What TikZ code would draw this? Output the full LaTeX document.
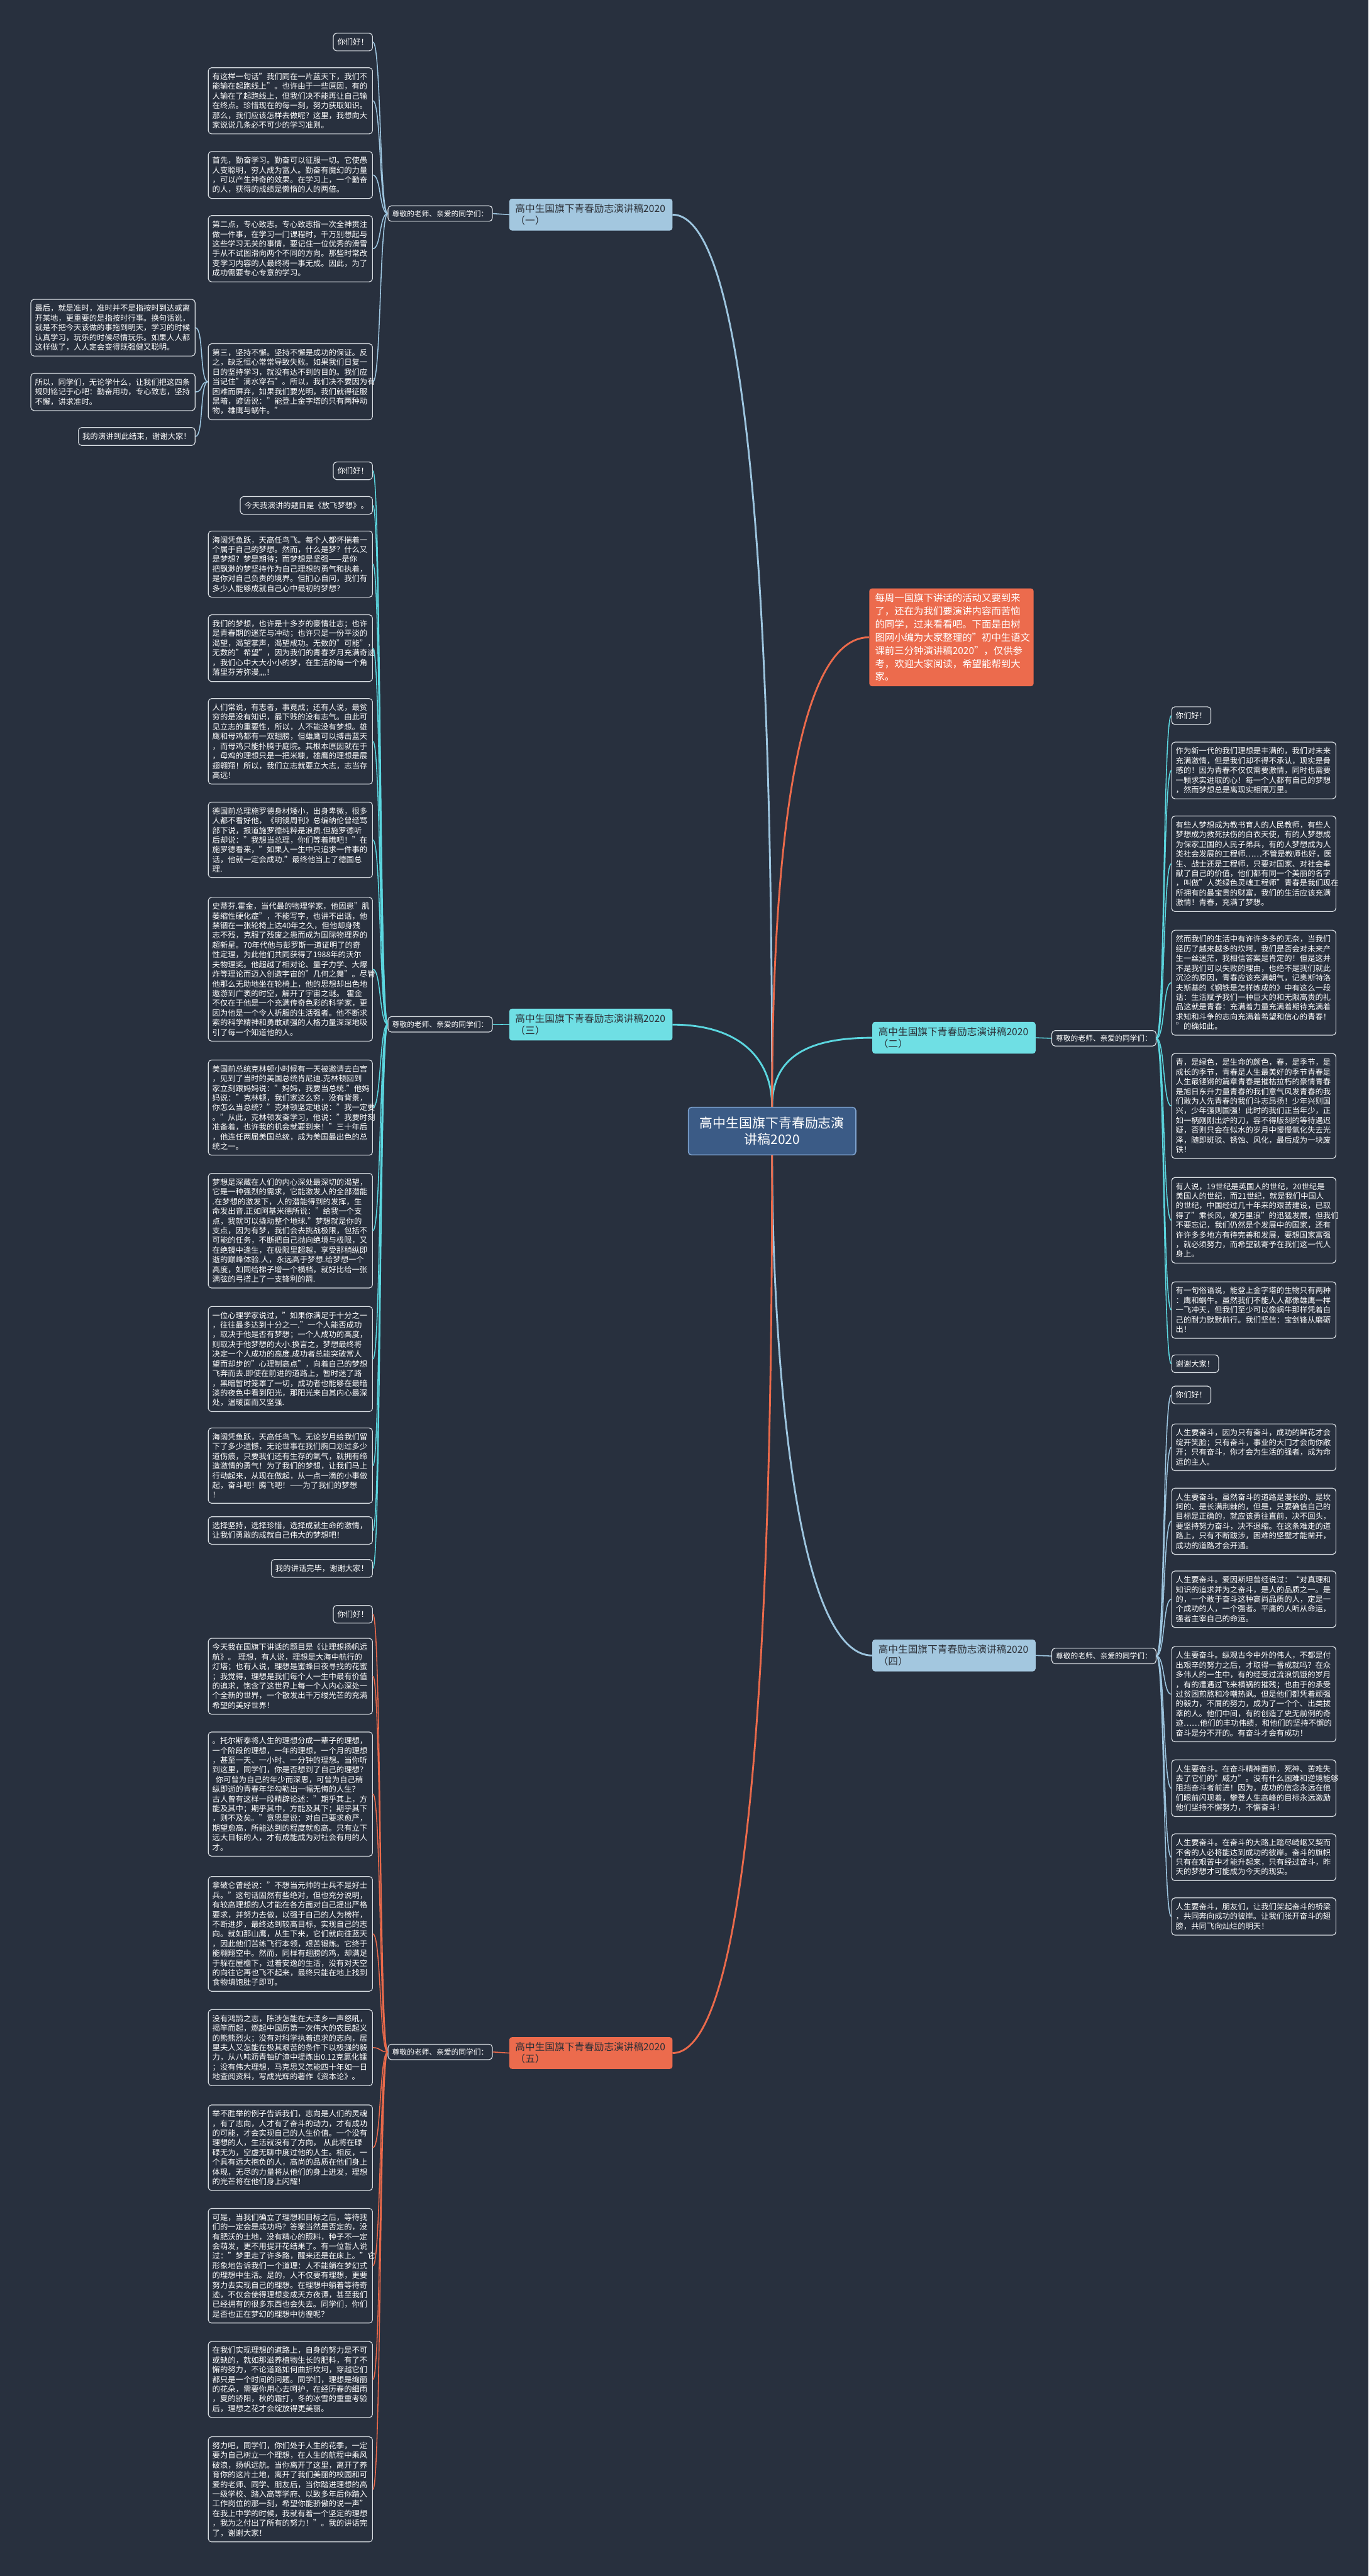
\documentclass[tikz,border=0pt]{standalone}
\usepackage{fontspec}
\setmainfont{Noto Sans CJK SC}
\definecolor{bgcol}{HTML}{28303E}
\definecolor{leafline}{HTML}{D9DEE3}
\definecolor{lblue}{HTML}{9DC5DF}
\definecolor{lcyan}{HTML}{5BD6DF}
\definecolor{lorng}{HTML}{EB6A4B}
\definecolor{tblue}{HTML}{A3C7DF}
\definecolor{tcyan}{HTML}{6FDFE4}
\definecolor{torng}{HTML}{EC6B4D}
\definecolor{titletxt}{HTML}{2B2F36}
\definecolor{rootfill}{HTML}{3B5B86}
\definecolor{rootline}{HTML}{7FA3CF}
\newcommand\mmleaf{\fontsize{4.72}{5.9}\selectfont}
\newcommand\mmgreet{\fontsize{4.5}{5.4}\selectfont}
\newcommand\mmtitle{\fontsize{6}{7.3}\selectfont}
\newcommand\mmroot{\fontsize{8}{10.2}\selectfont}
\newcommand\mmnote{\fontsize{5.9}{8}\selectfont}

\begin{document}
\begin{tikzpicture}[x=1pt, y=-1pt,
	leaf/.style={draw=leafline, fill=bgcol, line width=0.45pt, rounded corners=2pt, text=white, font=\mmleaf, align=left, inner xsep=2.5pt, inner ysep=3.2pt},
	wide/.style={leaf, text width=95pt},
	greet/.style={leaf, font=\mmgreet, inner ysep=2.6pt},
	ttl/.style={fill=#1, draw=#1, line width=0.4pt, rounded corners=1.5pt, text=titletxt, font=\mmtitle, align=left, text width=92pt, inner xsep=3.5pt, inner ysep=3pt},
	note/.style={fill=torng, rounded corners=1.5pt, text=white, font=\mmnote, align=left, text width=93pt, inner xsep=3.5pt, inner ysep=3pt},
	root/.style={fill=rootfill, draw=rootline, line width=0.6pt, rounded corners=2pt, text=white, font=\mmroot, align=center, minimum width=102pt, minimum height=29pt, inner sep=2pt},
	link/.style={draw=#1, line width=0.6pt},
	trunk/.style={draw=#1, line width=1.1pt}]
	\fill[bgcol] (0,0) rectangle (833,1568);
	\useasboundingbox (0,0) rectangle (833,1568);

	\node[root] (root) at (470,688.5) {高中生国旗下青春励志演\\讲稿2020};

	\node[ttl=tblue, anchor=north west] (t1) at (310,121) {高中生国旗下青春励志演讲稿2020\\（一）};
	\node[ttl=tcyan, anchor=north west] (t2) at (531,622) {高中生国旗下青春励志演讲稿2020\\（二）};
	\node[ttl=tcyan, anchor=north west] (t3) at (310,614) {高中生国旗下青春励志演讲稿2020\\（三）};
	\node[ttl=tblue, anchor=north west] (t4) at (531,998) {高中生国旗下青春励志演讲稿2020\\（四）};
	\node[ttl=torng, anchor=north west] (t5) at (310,1240) {高中生国旗下青春励志演讲稿2020\\（五）};
	\node[note, anchor=north west] (intro) at (529,358) {每周一国旗下讲话的活动又要到来\\
了，还在为我们要演讲内容而苦恼\\
的同学，过来看看吧。下面是由树\\
图网小编为大家整理的"初中生语文\\
课前三分钟演讲稿2020"，仅供参\\
考，欢迎大家阅读，希望能帮到大\\
家。};

	\node[greet, anchor=west] (g1) at (236,130) {尊敬的老师、亲爱的同学们：};
	\node[greet, anchor=east] (g2) at (704,632) {尊敬的老师、亲爱的同学们：};
	\node[greet, anchor=west] (g3) at (236,623.5) {尊敬的老师、亲爱的同学们：};
	\node[greet, anchor=east] (g4) at (704,1008) {尊敬的老师、亲爱的同学们：};
	\node[greet, anchor=west] (g5) at (236,1249) {尊敬的老师、亲爱的同学们：};

	\node[leaf, anchor=north east] (a1) at (227,20) {你们好！};
	\node[wide, anchor=north east] (a2) at (227,41) {有这样一句话"我们同在一片蓝天下，我们不\\
能输在起跑线上"。也许由于一些原因，有的\\
人输在了起跑线上，但我们决不能再让自己输\\
在终点。珍惜现在的每一刻，努力获取知识。\\
那么，我们应该怎样去做呢？这里，我想向大\\
家说说几条必不可少的学习准则。};
	\node[wide, anchor=north east] (a3) at (227,92) {首先，勤奋学习。勤奋可以征服一切。它使愚\\
人变聪明，穷人成为富人。勤奋有魔幻的力量\\
，可以产生神奇的效果。在学习上，一个勤奋\\
的人，获得的成绩是懒惰的人的两倍。};
	\node[wide, anchor=north east] (a4) at (227,131) {第二点，专心致志。专心致志指一次全神贯注\\
做一件事，在学习一门课程时，千万别想起与\\
这些学习无关的事情，要记住一位优秀的滑雪\\
手从不试图滑向两个不同的方向。那些时常改\\
变学习内容的人最终将一事无成。因此，为了\\
成功需要专心专意的学习。};
	\node[wide, anchor=north east] (a5) at (227,209) {第三，坚持不懈。坚持不懈是成功的保证。反\\
之，缺乏恒心常常导致失败。如果我们日复一\\
日的坚持学习，就没有达不到的目的。我们应\\
当记住"滴水穿石"。所以，我们决不要因为有\\
困难而屏弃，如果我们要光明，我们就得征服\\
黑暗，谚语说："能登上金字塔的只有两种动\\
物，雄鹰与蜗牛。"};
	\node[wide, anchor=north east] (a6) at (119,182) {最后，就是准时，准时并不是指按时到达或离\\
开某地，更重要的是指按时行事。换句话说，\\
就是不把今天该做的事拖到明天，学习的时候\\
认真学习，玩乐的时候尽情玩乐。如果人人都\\
这样做了，人人定会变得既强健又聪明。};
	\node[wide, anchor=north east] (a7) at (119,227) {所以，同学们，无论学什么，让我们把这四条\\
规则铭记于心吧：勤奋用功，专心致志，坚持\\
不懈，讲求准时。};
	\node[leaf, anchor=north east] (a8) at (119,260) {我的演讲到此结束，谢谢大家！};

	\node[leaf, anchor=north east] (c1) at (227,281) {你们好！};
	\node[leaf, anchor=north east] (c2) at (227,302) {今天我演讲的题目是《放飞梦想》。};
	\node[wide, anchor=north east] (c3) at (227,323) {海阔凭鱼跃，天高任鸟飞。每个人都怀揣着一\\
个属于自己的梦想。然而，什么是梦？什么又\\
是梦想？梦是期待；而梦想是坚强——是你\\
把飘渺的梦坚持作为自己理想的勇气和执着，\\
是你对自己负责的境界。但扪心自问，我们有\\
多少人能够成就自己心中最初的梦想？};
	\node[wide, anchor=north east] (c4) at (227,374) {我们的梦想，也许是十多岁的豪情壮志；也许\\
是青春期的迷茫与冲动；也许只是一份平淡的\\
渴望，渴望掌声，渴望成功。无数的"可能"，\\
无数的"希望"，因为我们的青春岁月充满奇迹\\
，我们心中大大小小的梦，在生活的每一个角\\
落里芬芳弥漫,,,,！};
	\node[wide, anchor=north east] (c5) at (227,425) {人们常说，有志者，事竟成；还有人说，最贫\\
穷的是没有知识，最下贱的没有志气。由此可\\
见立志的重要性，所以，人不能没有梦想。雄\\
鹰和母鸡都有一双翅膀，但雄鹰可以搏击蓝天\\
，而母鸡只能扑腾于庭院。其根本原因就在于\\
，母鸡的理想只是一把米糠，雄鹰的理想是展\\
翅翱翔！所以，我们立志就要立大志，志当存\\
高远！};
	\node[wide, anchor=north east] (c6) at (227,488) {德国前总理施罗德身材矮小，出身卑微，很多\\
人都不看好他，《明镜周刊》总编纳伦曾经骂\\
部下说，报道施罗德纯粹是浪费.但施罗德听\\
后却说："我想当总理，你们等着瞧吧！"在\\
施罗德看来，"如果人一生中只追求一件事的\\
话，他就一定会成功."最终他当上了德国总\\
理.};
	\node[wide, anchor=north east] (c7) at (227,546) {史蒂芬.霍金，当代最的物理学家，他因患"肌\\
萎缩性硬化症"，不能写字，也讲不出话，他\\
禁锢在一张轮椅上达40年之久，但他却身残\\
志不残，克服了残废之患而成为国际物理界的\\
超新星。70年代他与彭罗斯一道证明了的奇\\
性定理，为此他们共同获得了1988年的沃尔\\
夫物理奖。他超越了相对论、量子力学、大爆\\
炸等理论而迈入创造宇宙的"几何之舞"。尽管\\
他那么无助地坐在轮椅上，他的思想却出色地\\
遨游到广袤的时空，解开了宇宙之谜。~霍金\\
不仅在于他是一个充满传奇色彩的科学家，更\\
因为他是一个令人折服的生活强者。他不断求\\
索的科学精神和勇敢顽强的人格力量深深地吸\\
引了每一个知道他的人。};
	\node[wide, anchor=north east] (c8) at (227,645) {美国前总统克林顿小时候有一天被邀请去白宫\\
，见到了当时的美国总统肯尼迪.克林顿回到\\
家立刻跟妈妈说："妈妈，我要当总统."他妈\\
妈说："克林顿，我们家这么穷，没有背景，\\
你怎么当总统？"克林顿坚定地说："我一定要\\
。"从此，克林顿发奋学习，他说："我要时刻\\
准备着，也许我的机会就要到来！"三十年后\\
，他连任两届美国总统，成为美国最出色的总\\
统之一。};
	\node[wide, anchor=north east] (c9) at (227,714) {梦想是深藏在人们的内心深处最深切的渴望，\\
它是一种强烈的需求，它能激发人的全部潜能\\
.在梦想的激发下，人的潜能得到的发挥，生\\
命发出音.正如阿基米德所说："给我一个支\\
点，我就可以撬动整个地球."梦想就是你的\\
支点，因为有梦，我们会去挑战极限，包括不\\
可能的任务，不断把自己抛向绝境与极限，又\\
在绝镜中逢生，在极限里超越，享受那稍纵即\\
逝的巅峰体验.人，永远高于梦想.给梦想一个\\
高度，如同给梯子增一个横档，就好比给一张\\
满弦的弓搭上了一支锋利的箭.};
	\node[wide, anchor=north east] (c10) at (227,795) {一位心理学家说过，"如果你满足于十分之一\\
，往往最多达到十分之一."一个人能否成功\\
，取决于他是否有梦想；一个人成功的高度，\\
则取决于他梦想的大小.换言之，梦想最终将\\
决定一个人成功的高度.成功者总能突破常人\\
望而却步的"心理制高点"，向着自己的梦想\\
飞奔而去.即使在前进的道路上，暂时迷了路\\
，黑暗暂时笼罩了一切，成功者也能够在最暗\\
淡的夜色中看到阳光，那阳光来自其内心最深\\
处，温暖面而又坚强.};
	\node[wide, anchor=north east] (c11) at (227,869) {海阔凭鱼跃，天高任鸟飞。无论岁月给我们留\\
下了多少遗憾，无论世事在我们胸口划过多少\\
道伤痕，只要我们还有生存的氧气，就拥有缔\\
造激情的勇气！为了我们的梦想，让我们马上\\
行动起来，从现在做起，从一点一滴的小事做\\
起，奋斗吧！腾飞吧！——为了我们的梦想\\
！};
	\node[wide, anchor=north east] (c12) at (227,923) {选择坚持，选择珍惜，选择成就生命的激情，\\
让我们勇敢的成就自己伟大的梦想吧！};
	\node[leaf, anchor=north east] (c13) at (227,949) {我的讲话完毕，谢谢大家！};

	\node[leaf, anchor=north east] (e1) at (227,977) {你们好！};
	\node[wide, anchor=north east] (e2) at (227,997) {今天我在国旗下讲话的题目是《让理想扬帆远\\
航》。~理想，有人说，理想是大海中航行的\\
灯塔；也有人说，理想是蜜蜂日夜寻找的花蜜\\
；我觉得，理想是我们每个人一生中最有价值\\
的追求，饱含了这世界上每一个人内心深处一\\
个全新的世界，一个散发出千万缕光芒的充满\\
希望的美好世界！};
	\node[wide, anchor=north east] (e3) at (227,1054) {。托尔斯泰将人生的理想分成一辈子的理想，\\
一个阶段的理想，一年的理想，一个月的理想\\
，甚至一天、一小时、一分钟的理想。当你听\\
到这里，同学们，你是否想到了自己的理想？\\
\hspace*{2pt}你可曾为自己的年少而深思，可曾为自己稍\\
纵即逝的青春年华勾勒出一幅无悔的人生？\\
古人曾有这样一段精辟论述："期乎其上，方\\
能及其中；期乎其中，方能及其下；期乎其下\\
，则不及矣。"意思是说：对自己要求愈严，\\
期望愈高，所能达到的程度就愈高。只有立下\\
远大目标的人，才有成能成为对社会有用的人\\
才。};
	\node[wide, anchor=north east] (e4) at (227,1142) {拿破仑曾经说："不想当元帅的士兵不是好士\\
兵。"这句话固然有些绝对，但也充分说明，\\
有较高理想的人才能在各方面对自己提出严格\\
要求，并努力去做，以强于自己的人为榜样，\\
不断进步，最终达到较高目标，实现自己的志\\
向。就如那山鹰，从生下来，它们就向往蓝天\\
，因此他们苦练飞行本领，艰苦锻炼。它终于\\
能翱翔空中。然而，同样有翅膀的鸡，却满足\\
于躲在屋檐下，过着安逸的生活，没有对天空\\
的向往它再也飞不起来，最终只能在地上找到\\
食物填饱肚子即可。};
	\node[wide, anchor=north east] (e5) at (227,1223) {没有鸿鹄之志，陈涉怎能在大泽乡一声怒吼，\\
揭竿而起，燃起中国历第一次伟大的农民起义\\
的熊熊烈火；没有对科学执着追求的志向，居\\
里夫人又怎能在极其艰苦的条件下以极强的毅\\
力，从八吨沥青铀矿渣中提炼出0.12克氯化镭\\
；没有伟大理想，马克思又怎能四十年如一日\\
地查阅资料，写成光辉的著作《资本论》。};
	\node[wide, anchor=north east] (e6) at (227,1281) {举不胜举的例子告诉我们，志向是人们的灵魂\\
，有了志向，人才有了奋斗的动力，才有成功\\
的可能，才会实现自己的人生价值。一个没有\\
理想的人，生活就没有了方向，~从此将在碌\\
碌无为，空虚无聊中度过他的人生。相反，一\\
个具有远大抱负的人，高尚的品质在他们身上\\
体现，无尽的力量将从他们的身上迸发，理想\\
的光芒将在他们身上闪耀！};
	\node[wide, anchor=north east] (e7) at (227,1344) {可是，当我们确立了理想和目标之后，等待我\\
们的一定会是成功吗？答案当然是否定的，没\\
有肥沃的土地，没有精心的照料，种子不一定\\
会萌发，更不用提开花结果了。有一位哲人说\\
过："梦里走了许多路，醒来还是在床上。"它\\
形象地告诉我们一个道理：人不能躺在梦幻式\\
的理想中生活。是的，人不仅要有理想，更要\\
努力去实现自己的理想。在理想中躺着等待奇\\
迹，不仅会使得理想变成天方夜谭，甚至我们\\
已经拥有的很多东西也会失去。同学们，你们\\
是否也正在梦幻的理想中彷徨呢？};
	\node[wide, anchor=north east] (e8) at (227,1425) {在我们实现理想的道路上，自身的努力是不可\\
或缺的，就如那滋养植物生长的肥料，有了不\\
懈的努力，不论道路如何曲折坎坷，穿越它们\\
都只是一个时间的问题。同学们，理想是绚丽\\
的花朵，需要你用心去呵护，在经历春的细雨\\
，夏的骄阳，秋的霜打，冬的冰雪的重重考验\\
后，理想之花才会绽放得更美丽。};
	\node[wide, anchor=north east] (e9) at (227,1483) {努力吧，同学们，你们处于人生的花季，一定\\
要为自己树立一个理想，在人生的航程中乘风\\
破浪，扬帆远航。当你离开了这里，离开了养\\
育你的这片土地，离开了我们美丽的校园和可\\
爱的老师、同学、朋友后，当你踏进理想的高\\
一级学校、踏入高等学府、以致多年后你踏入\\
工作岗位的那一刻，希望你能骄傲的说一声"\\
在我上中学的时候，我就有着一个坚定的理想\\
，我为之付出了所有的努力！"。我的讲话完\\
了，谢谢大家！};

	\node[leaf, anchor=north west] (b1) at (713,430) {你们好！};
	\node[wide, anchor=north west] (b2) at (713,451.5) {作为新一代的我们理想是丰满的，我们对未来\\
充满激情，但是我们却不得不承认，现实是骨\\
感的！因为青春不仅仅需要激情，同时也需要\\
一颗求实进取的心！每一个人都有自己的梦想\\
，然而梦想总是离现实相隔万里。};
	\node[wide, anchor=north west] (b3) at (713,496.5) {有些人梦想成为教书育人的人民教师，有些人\\
梦想成为救死扶伤的白衣天使，有的人梦想成\\
为保家卫国的人民子弟兵，有的人梦想成为人\\
类社会发展的工程师……不管是教师也好，医\\
生、战士还是工程师，只要对国家、对社会奉\\
献了自己的价值，他们都有同一个美丽的名字\\
，叫做"人类绿色灵魂工程师"青春是我们现在\\
所拥有的最宝贵的财富，我们的生活应该充满\\
激情！青春，充满了梦想。};
	\node[wide, anchor=north west] (b4) at (713,566) {然而我们的生活中有许许多多的无奈，当我们\\
经历了越来越多的坎坷，我们是否会对未来产\\
生一丝迷茫，我相信答案是肯定的！但是这并\\
不是我们可以失败的理由，也绝不是我们就此\\
沉沦的原因，青春应该充满朝气，记奥斯特洛\\
夫斯基的《钢铁是怎样炼成的》中有这么一段\\
话：生活赋予我们一种巨大的和无限高贵的礼\\
品这就是青春：充满着力量充满着期待充满着\\
求知和斗争的志向充满着希望和信心的青春！\\
”的确如此。};
	\node[wide, anchor=north west] (b5) at (713,641) {青，是绿色，是生命的颜色，春，是季节，是\\
成长的季节，青春是人生最美好的季节青春是\\
人生最铿锵的篇章青春是摧枯拉朽的豪情青春\\
是旭日东升力量青春的我们意气风发青春的我\\
们敢为人先青春的我们斗志昂扬！少年兴则国\\
兴，少年强则国强！此时的我们正当年少，正\\
如一柄刚刚出炉的刀，容不得版刻的等待遇迟\\
疑，否则只会在似水的岁月中慢慢氧化失去光\\
泽，随即斑驳、锈蚀、风化，最后成为一块废\\
铁！};
	\node[wide, anchor=north west] (b6) at (713,716.5) {有人说，19世纪是英国人的世纪，20世纪是\\
美国人的世纪，而21世纪，就是我们中国人\\
的世纪，中国经过几十年来的艰苦建设，已取\\
得了"乘长风，破万里浪"的迅猛发展，但我们\\
不要忘记，我们仍然是个发展中的国家，还有\\
许许多多地方有待完善和发展，要想国家富强\\
，就必须努力，而希望就寄予在我们这一代人\\
身上。};
	\node[wide, anchor=north west] (b7) at (713,780) {有一句俗语说，能登上金字塔的生物只有两种\\
：鹰和蜗牛。虽然我们不能人人都像雄鹰一样\\
一飞冲天，但我们至少可以像蜗牛那样凭着自\\
己的耐力默默前行。我们坚信：宝剑锋从磨砺\\
出！};
	\node[leaf, anchor=north west] (b8) at (713,824.5) {谢谢大家！};

	\node[leaf, anchor=north west] (d1) at (713,843.5) {你们好！};
	\node[wide, anchor=north west] (d2) at (713,866.5) {人生要奋斗，因为只有奋斗，成功的鲜花才会\\
绽开笑脸；只有奋斗，事业的大门才会向你敞\\
开；只有奋斗，你才会为生活的强者，成为命\\
运的主人。};
	\node[wide, anchor=north west] (d3) at (713,905.6) {人生要奋斗。虽然奋斗的道路是漫长的、是坎\\
坷的、是长满荆棘的，但是，只要确信自己的\\
目标是正确的，就应该勇往直前，决不回头，\\
要坚持努力奋斗，决不退缩。在这条难走的道\\
路上，只有不断跋涉，困难的坚壁才能凿开，\\
成功的道路才会开通。};
	\node[wide, anchor=north west] (d4) at (713,956) {人生要奋斗。爱因斯坦曾经说过：“对真理和\\
知识的追求并为之奋斗，是人的品质之一。是\\
的，一个敢于奋斗这种高尚品质的人，定是一\\
个成功的人，一个强者。平庸的人听从命运，\\
强者主宰自己的命运。};
	\node[wide, anchor=north west] (d5) at (713,1002) {人生要奋斗。纵观古今中外的伟人，不都是付\\
出艰辛的努力之后，才取得一番成就吗？在众\\
多伟人的一生中，有的经受过流浪饥饿的岁月\\
，有的遭遇过飞来横祸的摧残；也由于的承受\\
过贫困煎熬和冷嘲热讽。但是他们都凭着顽强\\
的毅力，不屑的努力，成为了一个个、出类拔\\
萃的人。他们中间，有的创造了史无前例的奇\\
迹……他们的丰功伟绩，和他们的坚持不懈的\\
奋斗是分不开的。有奋斗才会有成功！};
	\node[wide, anchor=north west] (d6) at (713,1071) {人生要奋斗。在奋斗精神面前，死神、苦难失\\
去了它们的"威力"。没有什么困难和逆境能够\\
阻挡奋斗者前进！因为，成功的信念永远在他\\
们眼前闪现着，攀登人生高峰的目标永远激励\\
他们坚持不懈努力，不懈奋斗！};
	\node[wide, anchor=north west] (d7) at (713,1116) {人生要奋斗。在奋斗的大路上踏尽崎岖又契而\\
不舍的人必将能达到成功的彼岸。奋斗的旗帜\\
只有在艰苦中才能升起来，只有经过奋斗，昨\\
天的梦想才可能成为今天的现实。};
	\node[wide, anchor=north west] (d8) at (713,1155) {人生要奋斗，朋友们，让我们架起奋斗的桥梁\\
，共同奔向成功的彼岸。让我们张开奋斗的翅\\
膀，共同飞向灿烂的明天！};

	\draw[trunk=lblue] (root.north) .. controls +(0,-175) and +(57,0) .. (t1.east);
	\draw[trunk=lcyan] (root.north) .. controls +(0,-30) and +(-40,0) .. (t2.west);
	\draw[trunk=lcyan] (root.north) .. controls +(0,-30) and +(40,0) .. (t3.east);
	\draw[trunk=lorng] (root.north) .. controls +(0,-150) and +(-45,0) .. (intro.west);
	\draw[trunk=lblue] (root.south) .. controls +(0,100) and +(-50,0) .. (t4.west);
	\draw[trunk=lorng] (root.south) .. controls +(0,175) and +(57,0) .. (t5.east);

	\draw[link=lblue] (t1.west) -- (g1.east);
	\draw[link=lcyan] (t2.east) -- (g2.west);
	\draw[link=lcyan] (t3.west) -- (g3.east);
	\draw[link=lblue] (t4.east) -- (g4.west);
	\draw[link=lorng] (t5.west) -- (g5.east);

	\foreach \i in {1,...,5}
		\draw[link=lblue] (g1.west) .. controls +(-5,0) and +(5,0) .. (a\i.east);
	\foreach \i in {6,7,8}
		\draw[link=lblue] (a5.west) .. controls +(-5,0) and +(5,0) .. (a\i.east);
	\foreach \i in {1,...,13}
		\draw[link=lcyan] (g3.west) .. controls +(-5,0) and +(5,0) .. (c\i.east);
	\foreach \i in {1,...,9}
		\draw[link=lorng] (g5.west) .. controls +(-5,0) and +(5,0) .. (e\i.east);
	\foreach \i in {1,...,8}
		\draw[link=lcyan] (g2.east) .. controls +(5,0) and +(-5,0) .. (b\i.west);
	\foreach \i in {1,...,8}
		\draw[link=lblue] (g4.east) .. controls +(5,0) and +(-5,0) .. (d\i.west);
\end{tikzpicture}
\end{document}
